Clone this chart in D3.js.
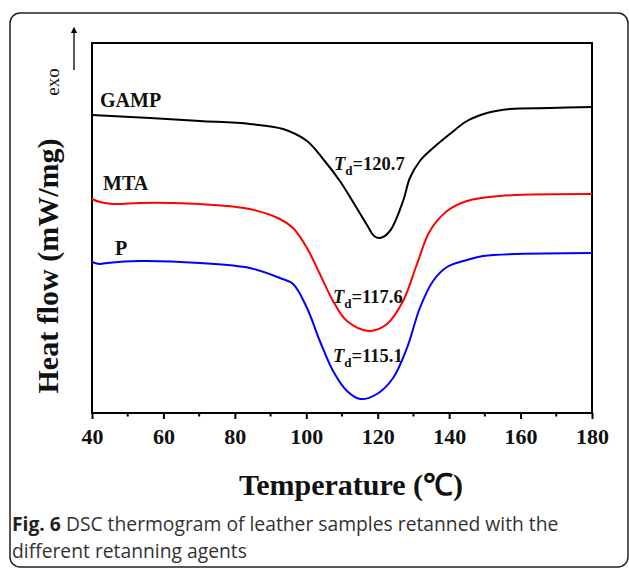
<!DOCTYPE html>
<html>
<head>
<meta charset="utf-8">
<script src="https://cdn.jsdelivr.net/npm/d3@7"></script>
<style>
  body { margin: 0; background: #fff; }
  svg { display: block; }
</style>
</head>
<body>
<svg width="629" height="569"></svg>
<script>
// temperature (°C) and heat flow (arbitrary units, exo up)
const gamp = [
  [40, 29.8], [56.2, 29.5], [70.2, 29.2], [84.2, 28.9], [93.5, 28.4], [100.2, 27.2],
  [104.7, 25.4], [109.4, 23.2], [113.1, 21.1], [117, 18.8], [119, 17.7], [120.7, 17.5],
  [123.4, 18.2], [127.1, 21.2], [129, 23.5], [131.8, 25.2], [135.5, 26.5], [140.2, 27.9],
  [145, 29.2], [150.6, 30.0], [157, 30.4], [168.2, 30.5], [180, 30.6]
];
const mta = [
  [40, 21.4], [42.2, 21.1], [45.9, 20.9], [53.4, 21.0], [61.8, 21.0], [70.2, 20.9],
  [84.2, 20.4], [92.6, 19.4], [96.3, 18.5], [100.2, 16.5], [103.8, 13.9], [107.5, 11.2],
  [111.4, 9.2], [117.6, 8.2], [122.6, 8.9], [127.1, 11.2], [131, 14.9], [134.6, 18.2],
  [139.4, 20.2], [145, 21.2], [154.2, 21.7], [180, 21.9]
];
const p = [
  [40, 15.1], [42.2, 14.9], [44.2, 15.0], [53.4, 15.2], [70.2, 15.0], [84.2, 14.5],
  [92.6, 13.5], [96.3, 12.9], [100.2, 10.5], [103.8, 7.2], [107.5, 4.2], [111.4, 2.2],
  [115.1, 1.4], [119.8, 1.9], [124.3, 3.5], [128.2, 6.5], [131.8, 10.5], [135.5, 13.2],
  [139.4, 14.6], [145, 15.3], [149.5, 15.7], [180, 16.0]
];
const xTicks = [40, 60, 80, 100, 120, 140, 160, 180];
const xMinor = [50, 70, 90, 110, 130, 150, 170];
const series = [
  { name: "GAMP", data: gamp, color: "#000000" },
  { name: "MTA", data: mta, color: "#ff0000" },
  { name: "P", data: p, color: "#0000ff" }
];
const tdValues = ["120.7", "117.6", "115.1"];

const svg = d3.select("svg");
const margin = { top: 43, right: 37, bottom: 156, left: 92 };
const width = 629, height = 569;

const x = d3.scaleLinear().domain([40, 180]).range([margin.left, width - margin.right]);
const y = d3.scaleLinear().domain([0, 37]).range([height - margin.bottom, margin.top]);

// outer rounded frame
svg.append("rect")
  .attr("x", 10).attr("y", 13)
  .attr("width", 618).attr("height", 554)
  .attr("rx", 10)
  .attr("fill", "none")
  .attr("stroke", "#222")
  .attr("stroke-width", 1.5);

const serif = "'Liberation Serif', 'Times New Roman', serif";

// x axis with major and minor ticks
const axisG = svg.append("g")
  .attr("transform", `translate(0,${y(0)})`)
  .call(d3.axisBottom(x).tickValues(xTicks).tickSize(6).tickPadding(9).tickSizeOuter(0));
axisG.select(".domain").remove();
axisG.selectAll(".tick line").attr("stroke", "#000").attr("stroke-width", 2);
axisG.selectAll(".tick text")
  .attr("font-family", serif)
  .attr("font-weight", "bold")
  .attr("font-size", 22)
  .attr("fill", "#111");

svg.append("g")
  .attr("transform", `translate(0,${y(0)})`)
  .selectAll("line")
  .data(xMinor)
  .join("line")
  .attr("x1", d => x(d)).attr("x2", d => x(d))
  .attr("y1", 0).attr("y2", 3.5)
  .attr("stroke", "#000").attr("stroke-width", 2);

// plot frame
svg.append("rect")
  .attr("x", x(40)).attr("y", y(37))
  .attr("width", x(180) - x(40))
  .attr("height", y(0) - y(37))
  .attr("fill", "none")
  .attr("stroke", "#000")
  .attr("stroke-width", 2);

const line = d3.line()
  .x(d => x(d[0]))
  .y(d => y(d[1]))
  .curve(d3.curveCatmullRom.alpha(0.5));

series.forEach(s => {
  svg.append("path")
    .datum(s.data)
    .attr("fill", "none")
    .attr("stroke", s.color)
    .attr("stroke-width", 2)
    .attr("d", line);
});

// series names
const nameLab = [
  { x: 100, y: 107 },
  { x: 103, y: 190 },
  { x: 115, y: 255 }
];
svg.selectAll(".name")
  .data(series)
  .join("text")
  .attr("class", "name")
  .attr("x", (d, i) => nameLab[i].x).attr("y", (d, i) => nameLab[i].y)
  .attr("font-family", serif)
  .attr("font-weight", "bold")
  .attr("font-size", 20)
  .attr("fill", "#111")
  .text(d => d.name);

// Td labels
const tdPos = [
  { x: 334, y: 170 },
  { x: 333, y: 303 },
  { x: 333, y: 362 }
];
tdValues.forEach((v, i) => {
  const t = svg.append("text")
    .attr("x", tdPos[i].x).attr("y", tdPos[i].y)
    .attr("font-family", serif)
    .attr("font-weight", "bold")
    .attr("font-size", 18.5)
    .attr("fill", "#111");
  t.append("tspan").attr("font-style", "italic").text("T");
  t.append("tspan").attr("font-size", 13).attr("dy", 5).text("d");
  t.append("tspan").attr("dy", -5).text("=" + v);
});

// axis titles
svg.append("text")
  .attr("x", 351).attr("y", 495)
  .attr("text-anchor", "middle")
  .attr("font-family", serif)
  .attr("font-weight", "bold")
  .attr("font-size", 30)
  .attr("fill", "#111")
  .text("Temperature (\u2103)");

svg.append("text")
  .attr("transform", "translate(58,266) rotate(-90)")
  .attr("text-anchor", "middle")
  .attr("font-family", serif)
  .attr("font-weight", "bold")
  .attr("font-size", 30)
  .attr("fill", "#111")
  .text("Heat flow (mW/mg)");

svg.append("text")
  .attr("transform", "translate(59,82) rotate(-90)")
  .attr("text-anchor", "middle")
  .attr("font-family", serif)
  .attr("font-size", 19)
  .attr("fill", "#111")
  .text("exo");

// exo arrow
svg.append("defs").append("marker")
  .attr("id", "arr")
  .attr("viewBox", "0 0 10 10")
  .attr("refX", 5).attr("refY", 5)
  .attr("markerWidth", 5).attr("markerHeight", 6)
  .attr("orient", "auto")
  .append("path")
  .attr("d", "M0,0 L10,5 L0,10 Z")
  .attr("fill", "#000");
svg.append("line")
  .attr("x1", 74).attr("y1", 70)
  .attr("x2", 74).attr("y2", 30)
  .attr("stroke", "#000").attr("stroke-width", 1.3)
  .attr("marker-end", "url(#arr)");

// caption
const cap = svg.append("g")
  .attr("font-family", "'Open Sans', 'Noto Sans', sans-serif")
  .attr("font-size", 19.3)
  .attr("fill", "#333");
const c1 = cap.append("text").attr("x", 12).attr("y", 531);
c1.append("tspan").attr("font-weight", "bold").attr("fill", "#222").text("Fig. 6");
c1.append("tspan").text(" DSC thermogram of leather samples retanned with the");
cap.append("text").attr("x", 12).attr("y", 558).text("different retanning agents");
</script>
</body>
</html>
